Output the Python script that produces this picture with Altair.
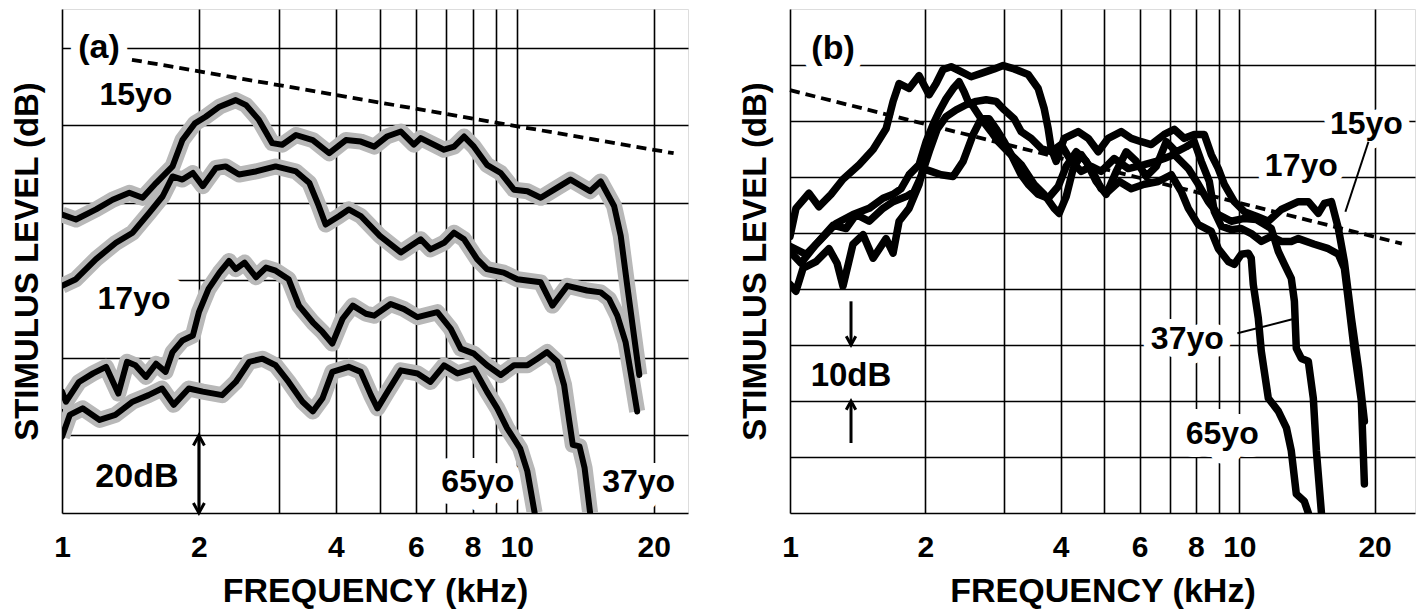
import altair as alt
import pandas as pd

FONT = "Liberation Sans"

# ---------------- Panel (a): (kHz, dB) pairs ----------------
A_15YO = [(1.0, 77.0), (1.073, 75.7), (1.188, 78.3), (1.292, 80.8), (1.406, 82.6), (1.504, 81.3),
          (1.61, 85.1), (1.75, 89.4), (1.84, 96.2), (1.96, 100.5), (2.07, 102.2), (2.22, 104.8),
          (2.41, 106.5), (2.54, 105.2), (2.71, 101.4), (2.90, 95.4), (3.05, 95.0), (3.27, 97.5),
          (3.56, 96.2), (3.87, 92.8), (4.21, 96.2), (4.54, 95.8), (4.86, 94.5), (5.18, 97.1),
          (5.56, 98.4), (5.94, 95.0), (6.15, 96.7), (6.92, 93.7), (7.28, 94.5), (7.66, 97.1),
          (8.05, 94.5), (8.6, 89.8), (9.22, 87.7), (9.86, 83.4), (10.55, 83.0), (11.29, 81.3),
          (12.08, 83.4), (13.13, 86.0), (14.5, 83.0), (15.3, 85.5), (16.37, 79.2), (16.93, 71.5),
          (17.5, 58.6), (18.1, 45.8), (18.6, 35.6)]
A_17YO = [(1.0, 58.6), (1.073, 60.3), (1.188, 65.5), (1.314, 69.7), (1.43, 72.3), (1.555, 77.4),
          (1.665, 81.7), (1.75, 86.8), (1.84, 86.0), (1.94, 87.7), (2.04, 84.3), (2.18, 89.0),
          (2.29, 89.4), (2.45, 87.3), (2.67, 88.1), (2.95, 89.4), (3.27, 88.1), (3.5, 85.1),
          (3.67, 79.2), (3.8, 74.4), (4.07, 76.6), (4.27, 78.3), (4.54, 76.6), (5.0, 71.5),
          (5.56, 67.2), (6.15, 70.6), (6.46, 68.0), (6.92, 69.7), (7.28, 72.3), (7.66, 70.6),
          (8.18, 65.5), (8.6, 62.9), (9.36, 62.0), (10.03, 60.3), (11.29, 59.5), (11.98, 53.5),
          (12.92, 58.6), (14.27, 57.4), (15.3, 56.9), (15.96, 55.2), (16.64, 50.9), (17.35, 44.1),
          (17.9, 34.7), (18.4, 26.2)]
A_37YO = [(1.0, 31.3), (1.02, 28.7), (1.09, 33.8), (1.17, 36.0), (1.25, 37.7), (1.33, 30.8),
          (1.39, 39.0), (1.45, 38.1), (1.53, 35.1), (1.61, 38.5), (1.69, 36.4), (1.75, 41.5),
          (1.84, 44.5), (1.94, 45.8), (2.0, 51.8), (2.1, 57.8), (2.22, 62.0), (2.33, 65.0),
          (2.41, 62.9), (2.52, 64.6), (2.67, 60.8), (2.81, 63.3), (2.95, 62.5), (3.15, 60.3),
          (3.32, 53.5), (3.56, 49.2), (3.74, 46.7), (3.93, 43.7), (4.14, 50.1), (4.36, 53.5),
          (4.66, 51.4), (4.86, 50.9), (5.28, 53.9), (5.65, 52.6), (6.05, 50.5), (6.69, 51.8),
          (7.16, 47.5), (7.53, 42.4), (8.05, 41.1), (8.6, 38.1), (9.22, 35.6), (9.86, 38.1),
          (10.55, 38.1), (11.1, 39.8), (11.66, 41.5), (12.29, 39.0), (12.71, 33.0), (13.05, 23.6),
          (13.28, 17.6), (13.74, 17.2), (14.1, 11.6), (14.5, 0.0)]
A_65YO = [(1.0, 19.7), (1.04, 25.3), (1.11, 27.0), (1.21, 24.0), (1.31, 25.3), (1.43, 28.7),
          (1.55, 30.4), (1.66, 32.1), (1.76, 27.9), (1.90, 32.1), (2.04, 31.3), (2.25, 30.4),
          (2.41, 33.8), (2.58, 39.0), (2.76, 39.8), (2.95, 38.1), (3.15, 33.8), (3.38, 28.7),
          (3.56, 26.2), (3.74, 29.6), (3.93, 36.4), (4.27, 37.7), (4.54, 36.4), (4.78, 30.4),
          (4.94, 27.0), (5.2, 31.3), (5.56, 36.8), (6.05, 36.0), (6.46, 33.8), (6.92, 38.1),
          (7.41, 36.0), (8.05, 37.3), (8.6, 31.3), (9.06, 27.0), (9.52, 21.9), (10.17, 16.7),
          (10.55, 10.8), (10.95, 0.0)]
A_DASHED = [(1.425, 116.9), (22.13, 92.8)]

# labels: (text, kHz, dB, font size, halo width)
A_LABELS = [("(a)", 1.206, 120.0, 34, 18), ("15yo", 1.454, 107.7, 32, 0),
            ("17yo", 1.44, 55.1, 32, 36), ("20dB", 1.461, 9.2, 34, 0),
            ("65yo", 8.21, 7.9, 32, 24), ("37yo", 18.54, 7.9, 32, 24)]
A_ARROW = [(2.0, 0.0, 20.0)]          # kHz, from dB, to dB (double headed)

# ---------------- Panel (b) ----------------
B_15YO = [(1.0, 49.4), (1.031, 54.4), (1.102, 57.1), (1.16, 54.7), (1.234, 56.9), (1.312, 59.6),
          (1.425, 62.2), (1.531, 64.9), (1.636, 68.6), (1.696, 73.5), (1.749, 76.7), (1.841, 75.8),
          (1.938, 78.1), (2.04, 74.7), (2.114, 76.7), (2.191, 79.2), (2.283, 79.7), (2.403, 78.8),
          (2.53, 77.9), (2.663, 78.5), (2.847, 79.3), (2.981, 79.9), (3.154, 79.3), (3.389, 78.3),
          (3.567, 75.8), (3.679, 72.2), (3.755, 68.6), (3.813, 65.1), (3.912, 62.8), (4.076, 66.9),
          (4.379, 68.1), (4.61, 66.9), (4.852, 64.5), (5.107, 66.9), (5.46, 68.1), (5.747, 66.9),
          (6.049, 66.3), (6.367, 65.8), (6.807, 67.6), (7.165, 68.5), (7.541, 66.9), (7.938, 67.6),
          (8.356, 67.6), (8.661, 64.0), (8.978, 61.5), (9.259, 58.7), (9.746, 55.6), (10.26, 53.8),
          (10.91, 53.0), (11.6, 52.1), (12.4, 54.2), (13.53, 55.6), (14.24, 55.6), (14.99, 53.5),
          (15.46, 55.3), (16.03, 55.6), (16.61, 50.8), (17.13, 44.9), (17.76, 34.8), (18.41, 25.9),
          (18.98, 16.4)]
B_17YO = [(1.0, 40.8), (1.031, 39.6), (1.069, 43.7), (1.143, 44.9), (1.221, 47.2), (1.273, 44.6),
          (1.312, 40.5), (1.381, 48.0), (1.454, 49.7), (1.531, 45.5), (1.636, 49.0), (1.696, 46.4),
          (1.749, 52.1), (1.841, 54.4), (1.938, 58.7), (1.978, 61.5), (2.061, 61.0), (2.169, 60.4),
          (2.307, 60.1), (2.428, 62.8), (2.556, 67.6), (2.663, 70.4), (2.775, 70.4), (2.876, 68.6),
          (2.997, 66.3), (3.106, 64.0), (3.269, 60.4), (3.389, 58.7), (3.567, 56.9), (3.755, 56.2),
          (3.952, 58.3), (4.118, 61.9), (4.334, 64.5), (4.563, 62.8), (4.803, 59.2), (5.056, 56.9),
          (5.321, 61.0), (5.601, 64.5), (5.896, 62.8), (6.206, 60.1), (6.533, 61.9), (6.876, 66.3),
          (7.239, 64.5), (7.619, 65.4), (7.938, 66.3), (8.228, 62.8), (8.573, 59.2), (8.796, 53.8),
          (9.118, 51.2), (9.597, 50.6), (10.1, 50.8), (10.63, 49.9), (11.19, 48.5), (11.78, 49.4),
          (12.4, 48.5), (13.05, 48.5), (13.53, 49.0), (14.69, 48.0), (15.78, 47.2), (16.61, 46.2),
          (17.13, 43.7), (17.49, 37.8), (18.03, 28.9), (18.69, 20.0), (18.98, 5.2)]
B_37YO = [(1.0, 46.7), (1.058, 44.6), (1.143, 48.0), (1.247, 51.4), (1.333, 50.8), (1.403, 53.3),
          (1.5, 52.1), (1.611, 54.4), (1.696, 55.6), (1.813, 56.5), (1.889, 57.4), (1.958, 60.1),
          (2.04, 64.5), (2.125, 68.5), (2.226, 70.8), (2.343, 72.0), (2.466, 72.9), (2.596, 73.5),
          (2.732, 73.8), (2.876, 73.5), (2.997, 72.0), (3.154, 70.4), (3.269, 68.1), (3.441, 66.9),
          (3.622, 65.1), (3.813, 64.5), (4.014, 65.8), (4.225, 62.8), (4.447, 61.0), (4.681, 61.9),
          (4.927, 61.0), (5.268, 63.3), (5.66, 61.5), (6.143, 62.2), (6.533, 62.8), (6.807, 63.3),
          (7.165, 64.0), (7.698, 61.5), (8.104, 58.7), (8.53, 55.6), (8.978, 53.3), (9.597, 52.1),
          (10.26, 52.6), (10.91, 52.4), (11.78, 50.8), (12.21, 46.7), (12.6, 44.4), (13.05, 41.9),
          (13.26, 37.8), (13.39, 29.4), (13.74, 27.6), (14.24, 27.1), (14.61, 20.5), (14.84, 11.1),
          (15.23, 0.0)]
B_65YO = [(1.0, 47.6), (1.086, 46.2), (1.16, 48.5), (1.266, 51.7), (1.381, 53.3), (1.5, 54.4),
          (1.611, 56.2), (1.696, 56.9), (1.767, 57.9), (1.841, 60.4), (1.938, 62.2), (2.009, 66.3),
          (2.082, 69.4), (2.147, 71.7), (2.226, 74.0), (2.307, 75.8), (2.379, 77.0), (2.441, 75.2),
          (2.491, 73.5), (2.556, 72.6), (2.663, 70.4), (2.803, 68.1), (2.906, 66.3), (3.058, 64.5),
          (3.269, 62.2), (3.494, 58.7), (3.679, 56.9), (3.872, 54.4), (3.972, 53.5), (4.118, 56.5),
          (4.268, 61.5), (4.447, 64.0), (4.681, 61.5), (4.927, 57.9), (5.107, 57.4), (5.404, 59.2),
          (5.747, 57.9), (6.143, 58.7), (6.6, 59.2), (7.055, 60.4), (7.426, 57.4), (7.698, 54.4),
          (8.104, 51.5), (8.661, 50.3), (8.978, 47.2), (9.451, 44.9), (9.746, 44.4), (10.1, 46.2),
          (10.47, 46.4), (10.63, 45.5), (10.74, 40.8), (11.02, 34.8), (11.19, 28.9), (11.6, 20.5),
          (12.21, 18.2), (12.73, 15.2), (13.05, 11.1), (13.39, 3.4), (13.95, 2.1), (14.24, 0.0)]
B_DASHED = [(1.0, 75.5), (23.0, 48.1)]

B_LABELS = [("(b)", 1.247, 82.9, 34, 20), ("15yo", 19.18, 69.4, 32, 16),
            ("17yo", 13.74, 61.9, 32, 16), ("37yo", 7.66, 31.0, 32, 16),
            ("65yo", 9.16, 14.1, 32, 26), ("10dB", 1.367, 24.4, 33, 0)]
# pointer lines: (kHz1, dB1, kHz2, dB2)
B_POINTERS = [(19.38, 66.3, 17.22, 53.8), (9.90, 32.1, 13.12, 34.6)]
# single arrows: (kHz, tail dB, tip dB)
B_ARROWS = [(1.367, 37.8, 30.0), (1.367, 12.5, 20.0)]

GRID_KHZ = [1, 2, 3, 4, 5, 6, 7, 8, 9, 10, 20]
UP = "M-0.55,1L0,0L0.55,1"
DOWN = "M-0.55,-1L0,0L0.55,-1"


def curves_df(named):
    rows = []
    for name, pts in named:
        for i, (f, d) in enumerate(pts):
            rows.append({"f": f, "db": d, "series": name, "i": i})
    return pd.DataFrame(rows)


def x_axis():
    return alt.Axis(values=GRID_KHZ,
                    labelExpr="indexof([3,5,7,9], datum.value) >= 0 ? '' : format(datum.value, 'd')",
                    ticks=False, domain=False, grid=True, gridColor="black", gridWidth=1.6,
                    gridOpacity=1, labelFont=FONT, labelFontSize=30, labelFontWeight="bold",
                    labelColor="black", labelPadding=19, labelFlush=False, labelOverlap=False,
                    title="FREQUENCY (kHz)", titleFont=FONT, titleFontSize=34,
                    titleFontWeight="bold", titleColor="black", titlePadding=12)


def y_axis(step, top):
    return alt.Axis(values=list(range(0, top + 1, step)), labels=False, ticks=False, domain=False,
                    grid=True, gridColor="black", gridWidth=1.6, gridOpacity=1,
                    title="STIMULUS LEVEL (dB)", titleFont=FONT, titleFontSize=33,
                    titleFontWeight="bold", titleColor="black", titlePadding=18)


def panel(curves, dashed, labels, xdom, ydom, ystep, ytop, width, gray, extra):
    xs = alt.Scale(type="log", domain=xdom, nice=False)
    ys = alt.Scale(domain=ydom, nice=False, zero=False)
    X = lambda fld: alt.X(fld, scale=xs, axis=x_axis())
    Y = lambda fld: alt.Y(fld, scale=ys, axis=y_axis(ystep, ytop))

    lab = pd.DataFrame(labels, columns=["t", "f", "db", "fs", "halo"])
    halo = alt.Chart(lab).mark_text(font=FONT, fontWeight="bold", color="white", stroke="white",
                                    strokeJoin="round", align="center", baseline="middle").encode(
        x=X("f:Q"), y=Y("db:Q"), text="t:N", size=alt.Size("fs:Q", scale=None, legend=None),
        strokeWidth=alt.StrokeWidth("halo:Q", scale=None, legend=None))
    layers = [halo]
    cdf = curves_df(curves)
    if gray:
        layers.append(alt.Chart(cdf).mark_line(color="#b8b8b8", strokeWidth=16, strokeJoin="round",
                                               clip=True).encode(
            x=X("f:Q"), y=Y("db:Q"), detail="series:N", order="i:Q"))
    layers.append(alt.Chart(cdf).mark_line(color="black", strokeWidth=6 if gray else 7.5,
                                           strokeJoin="round", strokeCap="round", clip=True).encode(
        x=X("f:Q"), y=Y("db:Q"), detail="series:N", order="i:Q"))
    ddf = pd.DataFrame(dashed, columns=["f", "db"])
    layers.append(alt.Chart(ddf).mark_line(color="black", strokeWidth=3.8, strokeDash=[10, 6]).encode(
        x=X("f:Q"), y=Y("db:Q")))
    layers += extra(X, Y)
    layers.append(alt.Chart(lab).mark_text(font=FONT, fontWeight="bold", color="black",
                                           align="center", baseline="middle").encode(
        x=X("f:Q"), y=Y("db:Q"), text="t:N", size=alt.Size("fs:Q", scale=None, legend=None)))
    return alt.layer(*layers).properties(width=width, height=504)


def extra_a(X, Y):
    ar = pd.DataFrame(A_ARROW, columns=["f", "d1", "d2"])
    rule = alt.Chart(ar).mark_rule(color="black", strokeWidth=3).encode(x=X("f:Q"), y=Y("d1:Q"), y2="d2:Q")
    up = alt.Chart(ar).mark_point(shape=UP, size=400, filled=False, color="black", strokeWidth=3,
                                  opacity=1).encode(x=X("f:Q"), y=Y("d2:Q"))
    dn = alt.Chart(ar).mark_point(shape=DOWN, size=400, filled=False, color="black", strokeWidth=3,
                                  opacity=1).encode(x=X("f:Q"), y=Y("d1:Q"))
    return [rule, up, dn]


def extra_b(X, Y):
    pt = pd.DataFrame(B_POINTERS, columns=["f1", "d1", "f2", "d2"])
    ptr = alt.Chart(pt).mark_rule(color="black", strokeWidth=2).encode(
        x=X("f1:Q"), x2="f2:Q", y=Y("d1:Q"), y2="d2:Q")
    ar = pd.DataFrame(B_ARROWS, columns=["f", "tail", "tip"])
    ar["shape"] = [DOWN if a[2] < a[1] else UP for a in B_ARROWS]
    rule = alt.Chart(ar).mark_rule(color="black", strokeWidth=3).encode(x=X("f:Q"), y=Y("tail:Q"), y2="tip:Q")
    heads = alt.Chart(ar).mark_point(size=300, filled=False, color="black", strokeWidth=3,
                                     opacity=1).encode(
        x=X("f:Q"), y=Y("tip:Q"), shape=alt.Shape("shape:N", scale=None, legend=None))
    return [ptr, rule, heads]


pa = panel([("15yo", A_15YO), ("17yo", A_17YO), ("37yo", A_37YO), ("65yo", A_65YO)],
           A_DASHED, A_LABELS, [1, 23.8], [0, 130], 20, 120, 626, True, extra_a)
pb = panel([("15yo", B_15YO), ("17yo", B_17YO), ("37yo", B_37YO), ("65yo", B_65YO)],
           B_DASHED, B_LABELS, [1, 24.6], [0, 90], 10, 80, 625, False, extra_b)

chart = alt.hconcat(pa, pb, spacing=49).properties(
    padding={"left": 2, "top": 0, "right": 0, "bottom": 0}).configure_view(
    stroke="black", strokeWidth=3).configure(background="white")

chart.save("out.html", embed_options={"renderer": "svg", "actions": False})
